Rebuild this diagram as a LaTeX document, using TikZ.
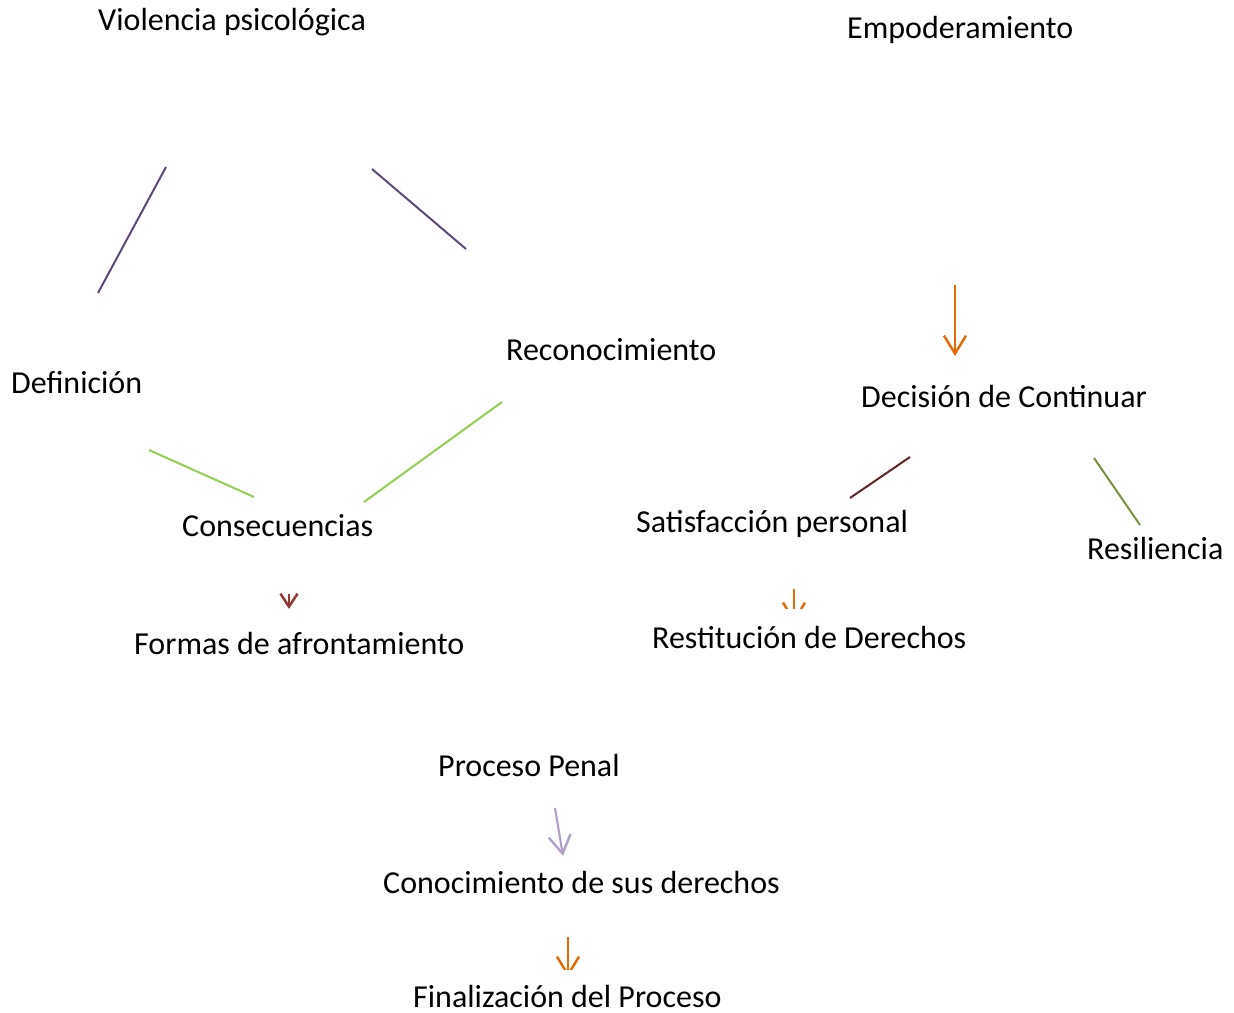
\documentclass[tikz,border=0pt]{standalone}
\usepackage{fontspec}
\setmainfont{Carlito}
\usetikzlibrary{arrows.meta}
\definecolor{cPurple}{HTML}{5F497A}
\definecolor{cLime}{HTML}{92D050}
\definecolor{cBrown}{HTML}{632523}
\definecolor{cOlive}{HTML}{77933C}
\definecolor{cOrange}{HTML}{E36C09}
\definecolor{cRed}{HTML}{953735}
\definecolor{cLav}{HTML}{B3A2C7}
\tikzset{
  lbl/.style={anchor=base west, inner sep=0pt, font=\fontsize{32}{38}\selectfont},
  conn/.style={line width=2pt},
  arr/.style={line width=2.5pt, -{Straight Barb[length=18pt,width=22pt,line width=2.5pt]}},
}
\begin{document}
\begin{tikzpicture}[x=1pt,y=-1pt]
\useasboundingbox (0,0) rectangle (1234,1012);
% texts
\node[lbl] (viol) at (98,30) {Violencia psicológica};
\node[lbl] (empo) at (847,38) {Empoderamiento};
\node[lbl] (defi) at (11,393) {Definición};
\node[lbl] (reco) at (506,360) {Reconocimiento};
\node[lbl] (deci) at (861,407) {Decisión de Continuar};
\node[lbl] (cons) at (182,536) {Consecuencias};
\node[lbl] (sati) at (636,532) {Satisfacción personal};
\node[lbl] (resi) at (1087,559) {Resiliencia};
\node[lbl] (form) at (134,654) {Formas de afrontamiento};
\node[lbl] (rest) at (652,648) {Restitución de Derechos};
\node[lbl] (proc) at (438,776) {Proceso Penal};
\node[lbl] (cono) at (383,893) {Conocimiento de sus derechos};
\node[lbl] (fina) at (413,1007) {Finalización del Proceso};
% connector end points
\coordinate (a1) at (166,167); \coordinate (a2) at (98,293);
\coordinate (b1) at (372,169); \coordinate (b2) at (466,249);
\coordinate (c1) at (149,450); \coordinate (c2) at (254,497);
\coordinate (d1) at (502,402); \coordinate (d2) at (364,502);
\coordinate (e1) at (910,457); \coordinate (e2) at (850,498);
\coordinate (f1) at (1094,458); \coordinate (f2) at (1140,525);
\coordinate (g1) at (955,285); \coordinate (g2) at (955,356);
\coordinate (h1) at (289,594); \coordinate (h2) at (289,609);
\coordinate (i1) at (794,589); \coordinate (i2) at (794,623);
\coordinate (j1) at (555,808); \coordinate (j2) at (563,856);
\coordinate (k1) at (568,937); \coordinate (k2) at (568,977);
% lines
\draw[conn, cPurple] (a1) -- (a2);
\draw[conn, cPurple] (b1) -- (b2);
\draw[conn, cLime] (c1) -- (c2);
\draw[conn, cLime] (d1) -- (d2);
\draw[conn, cBrown] (e1) -- (e2);
\draw[conn, cOlive] (f1) -- (f2);
% arrows
\draw[arr, cOrange] (g1) -- (g2);
\draw[line width=2.5pt, cRed, -{Straight Barb[length=13pt,width=17pt,line width=2.5pt]}] (h1) -- (h2);
\draw[arr, cLav, line width=2.2pt] (j1) -- (j2);
\begin{scope}
\clip (700,580) rectangle (900,608);
\draw[arr, cOrange] (i1) -- (i2);
\end{scope}
\begin{scope}
\clip (500,930) rectangle (650,969);
\draw[arr, cOrange] (k1) -- (k2);
\end{scope}
\end{tikzpicture}
\end{document}
